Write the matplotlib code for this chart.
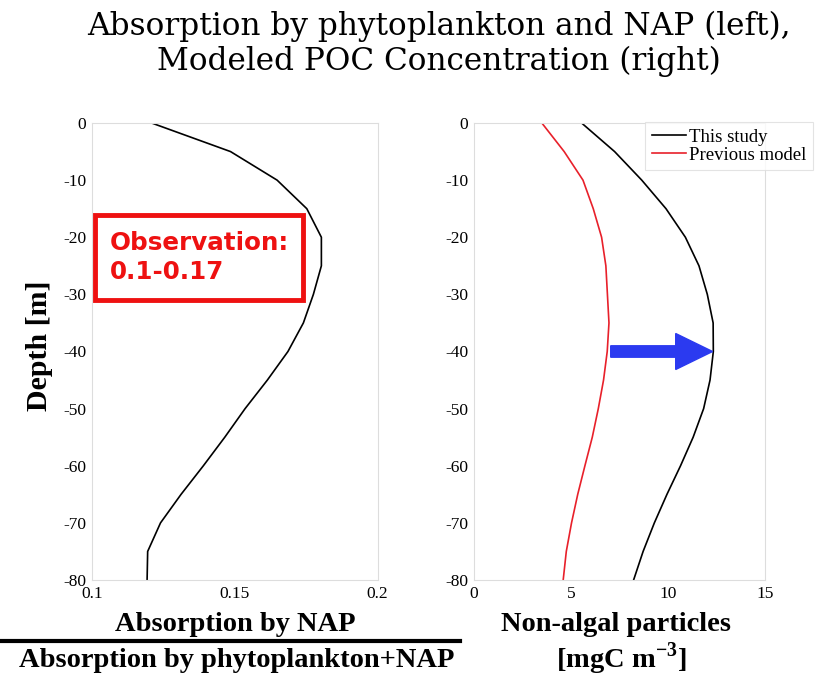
import matplotlib
matplotlib.use('Agg')
import matplotlib.pyplot as plt
from matplotlib.lines import Line2D
from matplotlib.patches import Rectangle, FancyArrow

plt.rcParams['axes.unicode_minus'] = False
plt.rcParams['mathtext.fontset'] = 'custom'
plt.rcParams['mathtext.rm'] = 'Liberation Serif'
plt.rcParams['mathtext.bf'] = 'Liberation Serif:bold'

# depth levels [m]
depth = [0, -5, -10, -15, -20, -25, -30, -35, -40, -45, -50, -55, -60, -65, -70, -75, -80]

# left: absorption by NAP / absorption by phytoplankton+NAP
ratio = [0.1209, 0.1485, 0.1648, 0.1752, 0.1803, 0.1803, 0.1775, 0.1740, 0.1686,
         0.1614, 0.1536, 0.1465, 0.1390, 0.1312, 0.1240, 0.1195, 0.1193]

# right: modeled POC of non-algal particles [mgC m-3]
this_study = [5.55, 7.25, 8.65, 9.9, 10.9, 11.6, 12.03, 12.33, 12.34,
              12.17, 11.84, 11.3, 10.65, 9.95, 9.3, 8.72, 8.23]
previous = [3.5, 4.65, 5.62, 6.15, 6.58, 6.8, 6.88, 6.96, 6.87,
            6.68, 6.41, 6.1, 5.72, 5.35, 5.03, 4.76, 4.6]

left_xticks = [0.1, 0.15, 0.2]
right_xticks = [0, 5, 10, 15]
yticks = list(range(0, -81, -10))

serif = 'Liberation Serif'

fig = plt.figure(figsize=(8.21, 6.77), dpi=100)
ax1 = fig.add_axes([0.112, 0.1433, 0.348, 0.675])
ax2 = fig.add_axes([0.5773, 0.1433, 0.3544, 0.675])

for ax in (ax1, ax2):
    for s in ax.spines.values():
        s.set_color('#dddddd')
        s.set_linewidth(0.8)
    ax.set_ylim(-80, 0)
    ax.set_yticks(yticks)
    ax.tick_params(length=0, labelsize=12.5, pad=4)
    for lab in ax.get_xticklabels() + ax.get_yticklabels():
        lab.set_fontfamily(serif)

ax1.plot(ratio, depth, color='black', lw=1.2)
ax1.set_xlim(0.1, 0.2)
ax1.set_xticks(left_xticks)
ax1.set_xticklabels(['0.1', '0.15', '0.2'], fontfamily=serif)
ax1.set_ylabel('Depth [m]', fontsize=21.5, fontweight='bold', fontfamily=serif)
ax1.yaxis.set_label_coords(-0.137, 0.512)

# observation box
ax1.add_patch(Rectangle((0.101, -31.0), 0.0727, 14.9, fill=False,
                        edgecolor='#ee1111', lw=3.5, zorder=5))
ax1.text(0.1063, -23.5, 'Observation:\n0.1-0.17', color='#ee1111',
         fontsize=17.7, fontweight='bold', fontfamily='DejaVu Sans',
         va='center', ha='left', linespacing=1.25)

ax2.plot(this_study, depth, color='black', lw=1.2, label='This study')
ax2.plot(previous, depth, color='#e8202a', lw=1.2, label='Previous model')
ax2.set_xlim(0, 15)
ax2.set_xticks(right_xticks)
ax2.set_xticklabels([str(t) for t in right_xticks], fontfamily=serif)
ax2.add_patch(FancyArrow(7.05, -40, 3.35, 0, width=2.0, head_width=6.3,
                         head_length=1.9, length_includes_head=False,
                         color='#2b3af0', zorder=5))

leg = ax2.legend(loc='upper left', bbox_to_anchor=(0.786, 0.82),
                 bbox_transform=fig.transFigure, prop={'family': serif, 'size': 13.5},
                 frameon=True, fancybox=False, handlelength=1.8, borderaxespad=0,
                 handletextpad=0.2, borderpad=0.35, labelspacing=0.05)
leg.get_frame().set_edgecolor('#dddddd')
leg.get_frame().set_linewidth(0.8)

# x labels
fig.text(0.286, 0.078, 'Absorption by NAP', ha='center', va='center',
         fontsize=20.5, fontweight='bold', fontfamily=serif)
fig.add_artist(Line2D([0.0, 0.56], [0.053, 0.053], color='black', lw=3,
                      transform=fig.transFigure))
fig.text(0.288, 0.024, 'Absorption by phytoplankton+NAP', ha='center', va='center',
         fontsize=20.5, fontweight='bold', fontfamily=serif)
fig.text(0.750, 0.078, 'Non-algal particles', ha='center', va='center',
         fontsize=20.5, fontweight='bold', fontfamily=serif)
fig.text(0.757, 0.027, r'[mgC m$^{\mathbf{-3}}$]', ha='center', va='center',
         fontsize=20.5, fontweight='bold', fontfamily=serif)

fig.text(0.535, 0.935, 'Absorption by phytoplankton and NAP (left),\nModeled POC Concentration (right)',
         ha='center', va='center', fontsize=22.4, fontfamily='DejaVu Serif', linespacing=1.15)

fig.savefig('out.png', dpi=100)
